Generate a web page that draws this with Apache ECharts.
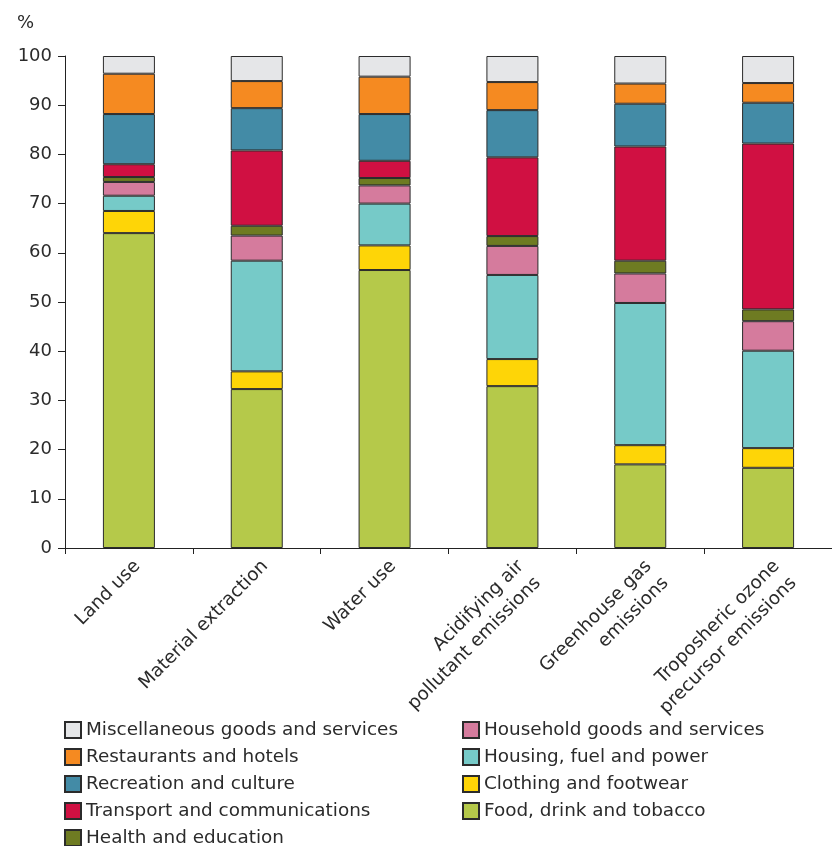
<!DOCTYPE html>
<html>
<head>
<meta charset="utf-8">
<script src="https://cdn.jsdelivr.net/npm/echarts@6/dist/echarts.min.js"></script>
<style>
html,body{margin:0;padding:0;background:#fff;}
#chart{width:832px;height:846px;}
</style>
</head>
<body>
<div id="chart"></div>
<script>
// Categories (x axis)
const categories = [
  'Land use',
  'Material extraction',
  'Water use',
  'Acidifying air\npollutant emissions',
  'Greenhouse gas\nemissions',
  'Troposheric ozone\nprecursor emissions'
];
// Series values (%), bottom to top of stack
const food       = [64.0, 32.3, 56.5, 32.9, 17.0, 16.3];
const clothing   = [4.5, 3.6, 5.0, 5.5, 3.9, 4.0];
const housing    = [3.1, 22.5, 8.5, 17.1, 28.9, 19.8];
const household  = [2.8, 5.1, 3.7, 5.9, 6.0, 6.0];
const health     = [1.0, 2.0, 1.5, 2.0, 2.6, 2.4];
const transport  = [2.6, 15.3, 3.5, 16.0, 23.2, 33.7];
const recreation = [10.2, 8.6, 9.5, 9.6, 8.7, 8.3];
const restaurants= [8.2, 5.5, 7.6, 5.7, 4.1, 4.0];
const misc       = [3.6, 5.1, 4.2, 5.3, 5.6, 5.5];
// Tick labels
const yTicks = [0, 10, 20, 30, 40, 50, 60, 70, 80, 90, 100];

// Legend layout: two columns, in reading order
const legendLeftCol  = ['Miscellaneous goods and services', 'Restaurants and hotels',
                        'Recreation and culture', 'Transport and communications', 'Health and education'];
const legendRightCol = ['Household goods and services', 'Housing, fuel and power',
                        'Clothing and footwear', 'Food, drink and tobacco'];

const seriesDefs = [
  {name: 'Food, drink and tobacco', data: food, color: '#b5c94a'},
  {name: 'Clothing and footwear', data: clothing, color: '#fed507'},
  {name: 'Housing, fuel and power', data: housing, color: '#76cac8'},
  {name: 'Household goods and services', data: household, color: '#d57b9d'},
  {name: 'Health and education', data: health, color: '#6e7b22'},
  {name: 'Transport and communications', data: transport, color: '#d01042'},
  {name: 'Recreation and culture', data: recreation, color: '#438ba6'},
  {name: 'Restaurants and hotels', data: restaurants, color: '#f58a21'},
  {name: 'Miscellaneous goods and services', data: misc, color: '#e5e6e8'}
];

const FONT = 'DejaVu Sans';
const FS = 18;
const FS_TXT = 18.4;
const TXT = '#2b2b2b';

const chart = echarts.init(document.getElementById('chart'), null, {renderer: 'canvas'});

function makeLegend(name, left, rowCenter) {
  return {
    orient: 'vertical', left: left, top: rowCenter - 9, padding: 0,
    itemWidth: 16, itemHeight: 16, itemGap: 0, icon: 'rect',
    textStyle: {fontFamily: FONT, fontSize: FS_TXT, color: TXT, lineHeight: 18},
    data: [name]
  };
}
const legends = [];
legendLeftCol.forEach(function (n, i) { legends.push(makeLegend(n, 64, 730 + i * 27)); });
legendRightCol.forEach(function (n, i) { legends.push(makeLegend(n, 462, 730 + i * 27)); });

chart.setOption({
  animation: false,
  backgroundColor: '#fff',
  textStyle: {fontFamily: FONT},
  graphic: [{
    type: 'text', left: 17, top: 14,
    style: {text: '%', font: FS + 'px "DejaVu Sans"', fill: TXT}
  }],
  grid: {left: 65, right: -17, top: 56, bottom: 298, containLabel: false},
  legend: legends,
  xAxis: {
    type: 'category',
    data: categories,
    axisLine: {lineStyle: {color: '#222', width: 1}},
    axisTick: {show: true, length: 6, lineStyle: {color: '#222'}},
    axisLabel: {
      rotate: 45, interval: 0, margin: 7, verticalAlign: 'top',
      fontFamily: FONT, fontSize: FS_TXT, color: TXT, lineHeight: 24
    }
  },
  yAxis: {
    type: 'value', min: 0, max: 100, interval: 10,
    axisLine: {show: true, lineStyle: {color: '#222', width: 1}},
    axisTick: {show: true, length: 7, lineStyle: {color: '#222'}},
    splitLine: {show: false},
    axisLabel: {
      margin: 13, fontFamily: FONT, fontSize: FS, color: TXT,
      formatter: function (v) { return yTicks.indexOf(v) >= 0 ? String(v) : ''; }
    }
  },
  series: seriesDefs.map(function (s) {
    return {
      name: s.name, type: 'bar', stack: 'total', data: s.data,
      barWidth: 52,
      itemStyle: {color: s.color, borderColor: '#2b2b2b', borderWidth: 1},
      emphasis: {disabled: true}
    };
  })
});
</script>
</body>
</html>
